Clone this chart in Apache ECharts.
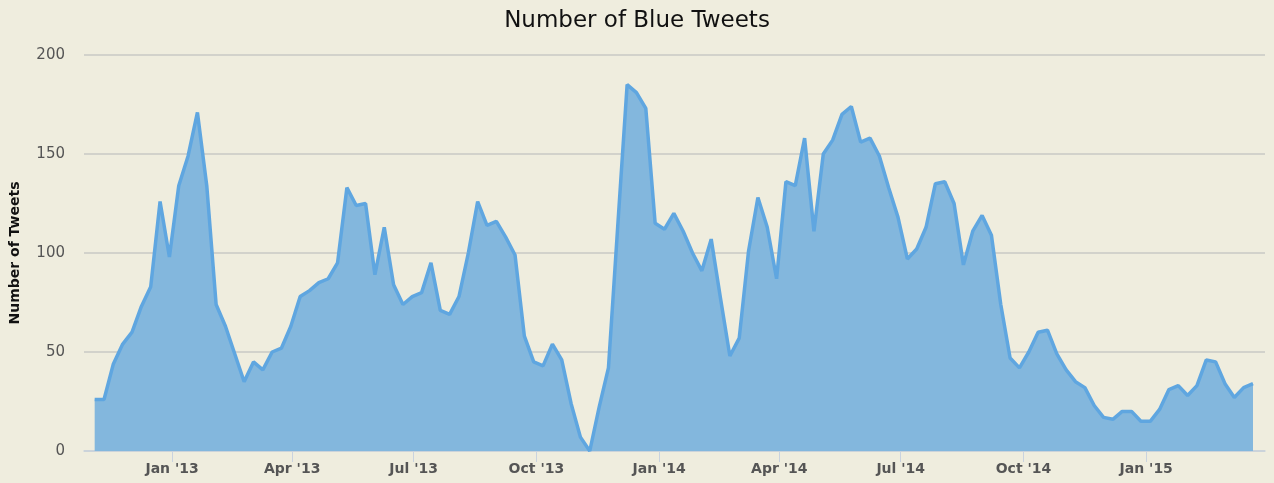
<!DOCTYPE html>
<html>
<head>
<meta charset="utf-8">
<script src="https://cdn.jsdelivr.net/npm/echarts@6/dist/echarts.min.js"></script>
<style>
html,body{margin:0;padding:0;background:#EFEDDE;}
#chart{width:1274px;height:483px;}
</style>
</head>
<body>
<div id="chart"></div>
<script>
// Weekly counts, first week starting 2012-11-04
var firstWeek = '2012-11-04';
var tweetCounts = [
  26, 26, 44, 54, 60, 73, 83, 126, 98, 134,
  149, 171, 134, 74, 63, 49, 35, 45, 41, 50,
  52, 63, 78, 81, 85, 87, 95, 133, 124, 125,
  89, 113, 84, 74, 78, 80, 95, 71, 69, 78,
  100, 126, 114, 116, 108, 99, 58, 45, 43, 54,
  46, 24, 7, 0, 22, 42, 114, 185, 181, 173,
  115, 112, 120, 111, 100, 91, 107, 77, 48, 57,
  101, 128, 113, 87, 136, 134, 158, 111, 150, 157,
  170, 174, 156, 158, 149, 133, 118, 97, 102, 113,
  135, 136, 125, 94, 111, 119, 109, 74, 47, 42,
  50, 60, 61, 49, 41, 35, 32, 23, 17, 16,
  20, 20, 15, 15, 21, 31, 33, 28, 33, 46,
  45, 34, 27, 32, 34
];
var tickDates = ['2013-01-01','2013-04-01','2013-07-01','2013-10-01','2014-01-01','2014-04-01','2014-07-01','2014-10-01','2015-01-01'];
var tickLabels = ["Jan '13","Apr '13","Jul '13","Oct '13","Jan '14","Apr '14","Jul '14","Oct '14","Jan '15"];
var yTicks = [0, 50, 100, 150, 200];

function ts(s){ var p = s.split('-'); return Date.UTC(+p[0], +p[1]-1, +p[2]); }
var DAY = 86400000;
var start = ts(firstWeek);
var seriesData = tweetCounts.map(function(v, i){ return [start + i*7*DAY, v]; });
var tickTs = tickDates.map(ts);

var chart = echarts.init(document.getElementById('chart'), null, {renderer:'canvas'});
chart.setOption({
  backgroundColor: '#EFEDDE',
  animation: false,
  title: {
    text: 'Number of Blue Tweets',
    left: 'center', top: 5,
    textStyle: {fontFamily: 'DejaVu Sans', fontSize: 23, fontWeight: 'normal', color: '#111'}
  },
  grid: {left: 84, right: 9, top: 55, bottom: 32},
  xAxis: {
    type: 'value',
    min: ts('2012-10-27'),
    max: ts('2015-03-31'),
    axisLine: {lineStyle: {color: '#C9D3DF', width: 1.5}},
    axisTick: {show: true, length: 11, lineStyle: {color: '#C9D3DF', width: 1}, customValues: tickTs},
    splitLine: {show: false},
    axisLabel: {
      customValues: tickTs,
      margin: 11,
      fontFamily: 'DejaVu Sans', fontSize: 14, fontWeight: 'bold', color: '#555',
      formatter: function(v){
        for (var i = 0; i < tickTs.length; i++) if (Math.abs(tickTs[i]-v) < DAY) return tickLabels[i];
        return '';
      }
    }
  },
  yAxis: {
    type: 'value',
    min: yTicks[0], max: yTicks[yTicks.length-1], interval: 50,
    name: 'Number of Tweets',
    nameLocation: 'middle',
    nameGap: 62,
    nameTextStyle: {fontFamily: 'DejaVu Sans', fontSize: 14, fontWeight: 'bold', color: '#111'},
    axisLine: {show: false},
    axisTick: {show: false},
    axisLabel: {fontFamily: 'DejaVu Sans', fontSize: 15, color: '#555', margin: 19},
    splitLine: {lineStyle: {color: '#C8C8C4', width: 1.5}}
  },
  series: [{
    type: 'line',
    data: seriesData,
    symbol: 'none',
    lineStyle: {color: '#5FA6E0', width: 3.5},
    areaStyle: {color: '#83B7DD', opacity: 1},
    z: 2
  }]
});
</script>
</body>
</html>
